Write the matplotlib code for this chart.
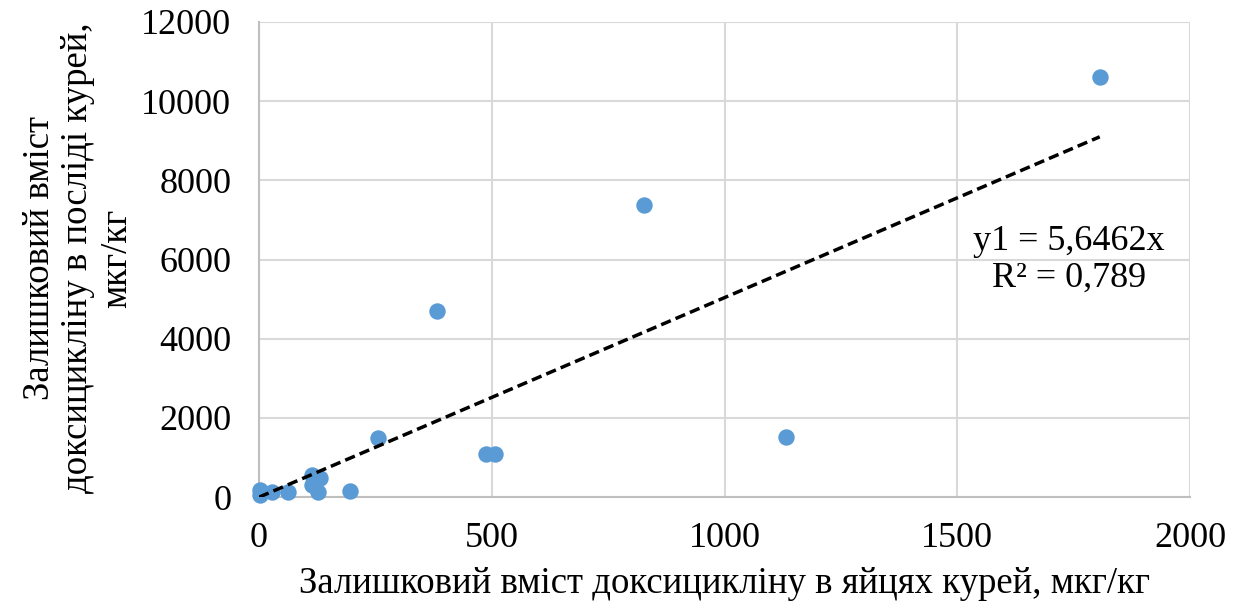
import matplotlib
matplotlib.use("Agg")
import matplotlib.pyplot as plt
import numpy as np

x_vals = [1806, 827, 382, 1132, 256, 487, 507, 2, 2, 28, 62, 114, 131, 114, 127, 196]
y_vals = [10610, 7380, 4700, 1515, 1490, 1080, 1080, 177, 50, 126, 126, 556, 480, 303, 126, 150]
trend_x = [0, 1806]
trend_y = [0, 9100]
eq_text = "y1 = 5,6462x\nR² = 0,789"
xticks = [0, 500, 1000, 1500, 2000]
yticks = [0, 2000, 4000, 6000, 8000, 10000, 12000]

plt.rcParams['font.family'] = ['Liberation Serif', 'DejaVu Serif']
fig = plt.figure(figsize=(12.36, 6.10), dpi=100)
ax = fig.add_axes([0.2096, 0.185, 0.7532, 0.779])

ax.scatter(x_vals, y_vals, s=140, color='#5B9BD5', zorder=3, linewidths=0, clip_on=False)
ax.plot(trend_x, trend_y, color='black', linestyle=(0, (3, 1.5)), linewidth=2.5, zorder=4)

ax.set_xlim(0, 2000)
ax.set_ylim(0, 12000)
ax.set_xticks(xticks)
ax.set_yticks(yticks)
ax.tick_params(labelsize=26, length=0)
ax.tick_params(axis='y', pad=20)
ax.tick_params(axis='x', pad=18)
ax.grid(True, color='#D9D9D9', linewidth=1.5)
ax.set_axisbelow(True)
for s in ['top', 'right']:
    ax.spines[s].set_visible(False)
for s in ['left', 'bottom']:
    ax.spines[s].set_color('#BFBFBF')
    ax.spines[s].set_linewidth(1.5)

ax.set_xlabel("Залишковий вміст доксицикліну в яйцях курей, мкг/кг", fontsize=26.5, labelpad=8)
fig.text(78 / 1236, 1 - 258 / 610,
         "Залишковий вміст\nдоксицикліну в послідi курей,\nмкг/кг",
         fontsize=26.5, rotation=90, ha='center', va='center',
         multialignment='center', linespacing=1.15)

ax.text(1740, 6000, eq_text, fontsize=26, ha='center', va='center', linespacing=1.15)

fig.savefig("out.png", dpi=100)
